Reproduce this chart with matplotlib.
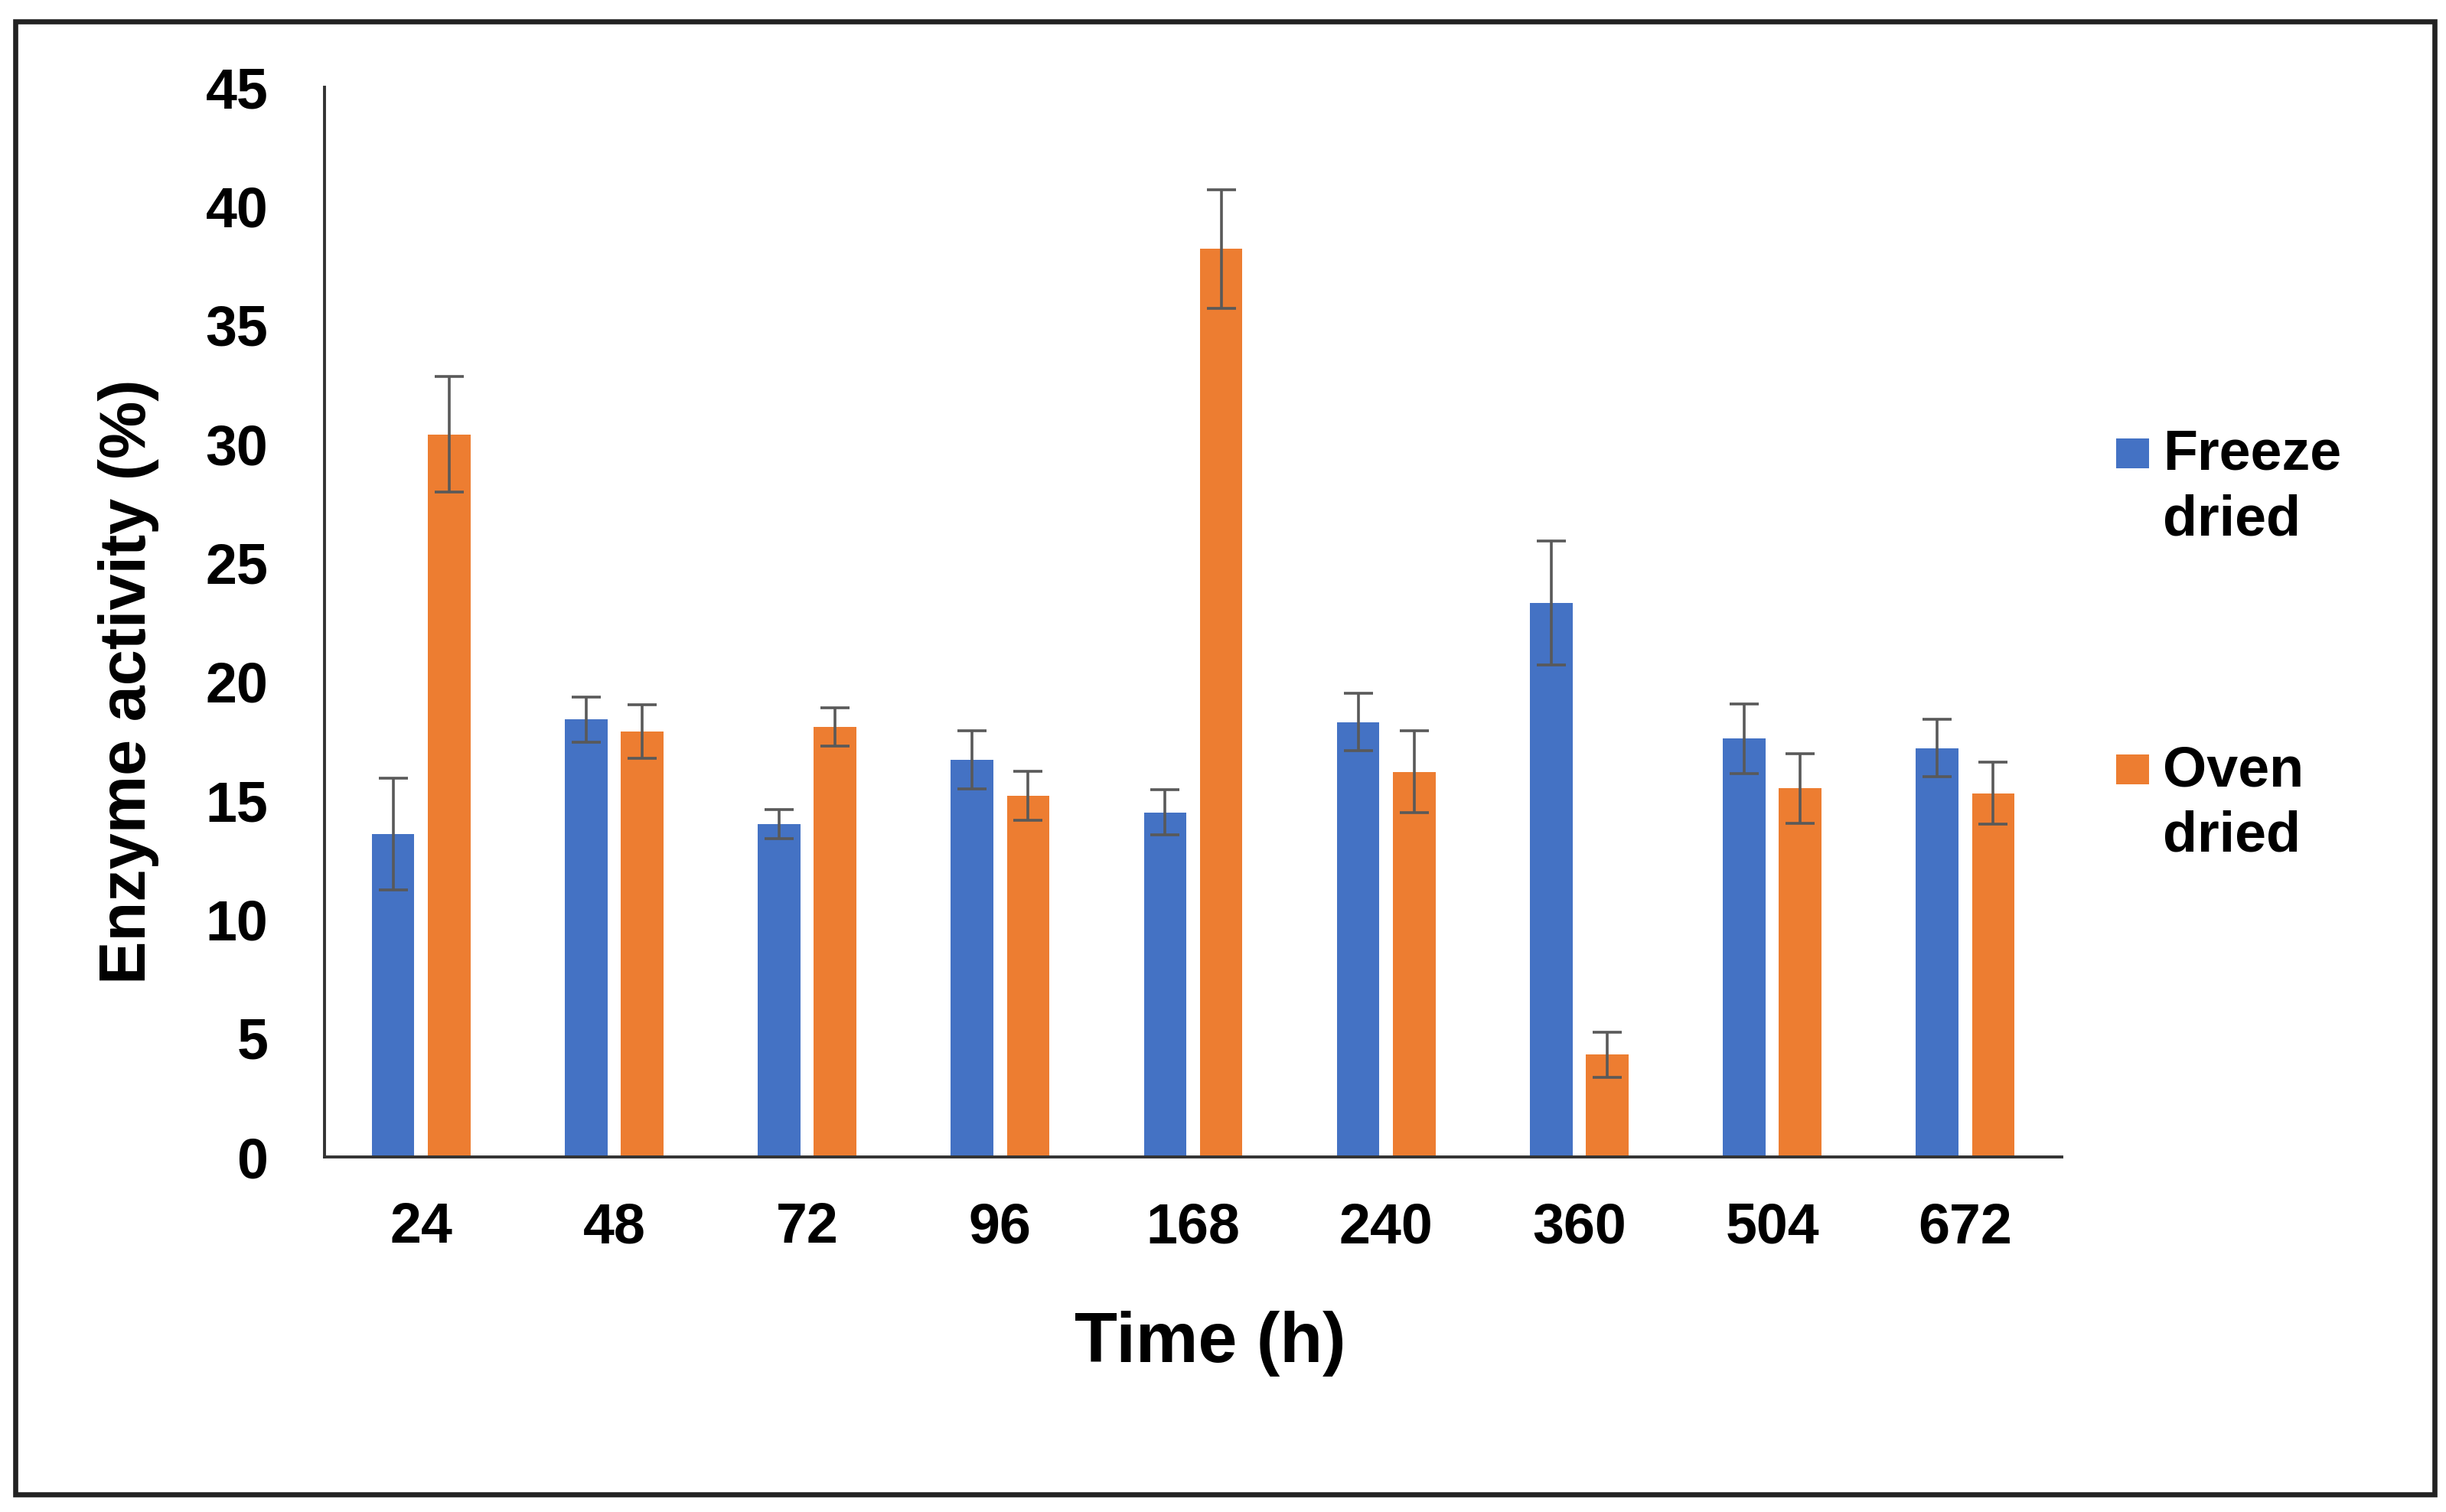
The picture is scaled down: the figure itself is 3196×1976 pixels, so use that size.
import matplotlib
matplotlib.use('Agg')
import matplotlib.pyplot as plt
import numpy as np
from matplotlib import font_manager as fm
from matplotlib.patches import Rectangle
from matplotlib.container import BarContainer
from matplotlib.legend_handler import HandlerPatch, update_from_first_child

plt.rcParams['font.family'] = ['Liberation Sans', 'DejaVu Sans']

times = ['24', '48', '72', '96', '168', '240', '360', '504', '672']
freeze = [13.6, 18.4, 14.0, 16.7, 14.5, 18.3, 23.3, 17.6, 17.2]
freeze_err = [2.35, 0.96, 0.6, 1.23, 0.96, 1.21, 2.6, 1.47, 1.2]
oven = [30.4, 17.9, 18.1, 15.2, 38.2, 16.2, 4.3, 15.5, 15.3]
oven_err = [2.43, 1.13, 0.8, 1.04, 2.5, 1.73, 0.95, 1.47, 1.3]

blue = '#4472C4'
orange = '#ED7D31'
err_color = '#595959'

# narrow bold for the y label if it is there
try:
    fm.findfont(fm.FontProperties(family='Liberation Sans Narrow', weight='bold'),
                fallback_to_default=False)
    ylab_font = dict(family='Liberation Sans Narrow', size=37)
except ValueError:
    ylab_font = dict(family='Liberation Sans', size=30.5)

fig = plt.figure(figsize=(15.98, 9.88), dpi=200)
ax = fig.add_axes([0.1327, 0.2348, 0.8429 - 0.1327, 0.9423 - 0.2348])

x = np.arange(len(times))
w = 0.22
off = 0.145
ekw = dict(ecolor=err_color, elinewidth=1.3, capsize=7, capthick=1.3)
ax.bar(x - off, freeze, w, color=blue, yerr=freeze_err, error_kw=ekw, label='Freeze\ndried')
ax.bar(x + off, oven, w, color=orange, yerr=oven_err, error_kw=ekw, label='Oven\ndried')

ax.set_xlim(-0.5, len(times) - 0.5)
ax.set_ylim(0, 45)
ax.set_yticks(range(0, 46, 5))
ax.set_xticks(x)
ax.set_xticklabels(times)

for s in ['top', 'right']:
    ax.spines[s].set_visible(False)
for s in ['left', 'bottom']:
    ax.spines[s].set_linewidth(1.4)
    ax.spines[s].set_color('#333333')

ax.tick_params(axis='both', length=0)
ax.tick_params(axis='x', pad=21, labelsize=26.5)
ax.tick_params(axis='y', pad=26.5, labelsize=26.5)
for t in ax.get_xticklabels() + ax.get_yticklabels():
    t.set_fontweight('bold')

ax.set_xlabel('Time (h)', fontsize=33, fontweight='bold', va='baseline')
ax.xaxis.set_label_coords(0.5097, -0.1917)
ax.set_ylabel('Enzyme activity (%)', fontweight='bold', va='center', **ylab_font)
ax.yaxis.set_label_coords(-0.1128, 0.4446)

fs = 26.5


# legend square sits on the first line of the label, as in Excel
def top_line_patch(legend, orig_handle, xdescent, ydescent, width, height, fontsize):
    return Rectangle((-xdescent, -ydescent + 0.62 * fontsize), width, height)


leg = fig.legend(loc='upper left', bbox_to_anchor=(0.8652, 0.7166), frameon=False,
                 prop=dict(size=fs, weight='bold'), borderpad=0, borderaxespad=0,
                 handlelength=0.58, handleheight=0.44, handletextpad=0.25,
                 labelspacing=3.52,
                 handler_map={BarContainer: HandlerPatch(patch_func=top_line_patch,
                                                         update_func=update_from_first_child)})
for t in leg.get_texts():
    t.set_linespacing(1.3)

# frame round the whole picture
fig.patches.append(Rectangle((20 / 3196, 1 - 1953 / 1976), (3181 - 20) / 3196, (1953 - 28) / 1976,
                             transform=fig.transFigure, fill=False, lw=2.4, edgecolor='#222222'))

fig.savefig('out.png', dpi=200)
